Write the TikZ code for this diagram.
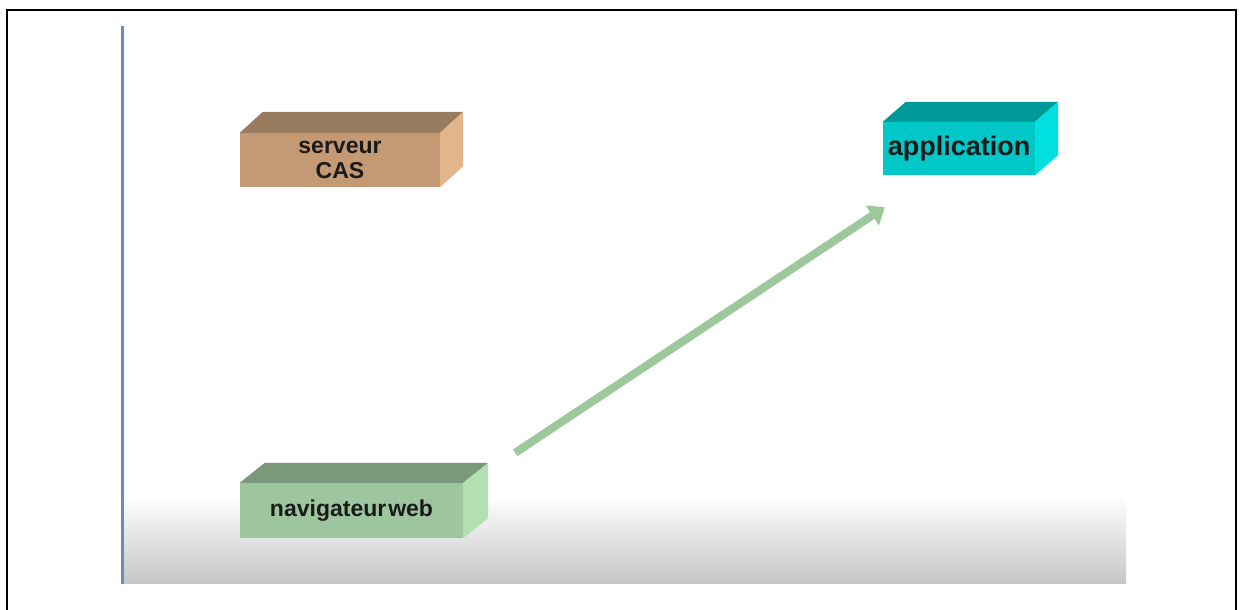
\documentclass[tikz,border=0pt]{standalone}
\usepackage{fontspec}
\setmainfont{Liberation Sans}
\usetikzlibrary{calc,arrows.meta}

\definecolor{casfront}{RGB}{195,154,115}
\definecolor{castop}{RGB}{153,124,95}
\definecolor{casside}{RGB}{226,182,138}
\definecolor{appfront}{RGB}{0,200,200}
\definecolor{apptop}{RGB}{0,153,153}
\definecolor{appside}{RGB}{0,224,224}
\definecolor{navfront}{RGB}{158,198,158}
\definecolor{navtop}{RGB}{122,152,122}
\definecolor{navside}{RGB}{178,224,178}
\definecolor{flowgreen}{RGB}{156,200,156}
\definecolor{rulerblue}{RGB}{106,140,191}
\definecolor{floorgray}{RGB}{198,198,198}
\definecolor{labeltext}{RGB}{26,26,26}

\tikzset{
  front/.style={inner sep=0pt, align=center, text=labeltext,
    font=\bfseries\fontsize{23}{25}\selectfont},
  flow/.style={line width=8pt, flowgreen,
    -{Triangle[length=15pt,width=23pt,fill=flowgreen,color=flowgreen]}}
}

% top and side faces of a block: node name, depth dx, dy, top colour, side colour
\newcommand{\blockfaces}[5]{%
  \fill[#4] (#1.north west) -- ++(#2,#3) -- ($(#1.north east)+(#2,#3)$)
    -- (#1.north east) -- cycle;
  \fill[#5] (#1.north east) -- ++(#2,#3) -- ($(#1.south east)+(#2,#3)$)
    -- (#1.south east) -- cycle;
}

\begin{document}
\begin{tikzpicture}[x=1pt,y=1pt]
  \useasboundingbox (0,0) rectangle (1243,610);
  \fill[white] (0,0) rectangle (1243,610);

  % floor shading under the blocks
  \shade[top color=white, bottom color=floorgray] (124,26) rectangle (1126,115);

  % outer frame, open at the bottom
  \draw[line width=2.5pt] (7,0) -- (7,600) -- (1236,600) -- (1236,0);

  % vertical rule on the left
  \draw[rulerblue, line width=3.5pt] (122.5,26) -- (122.5,584);

  % blocks
  \node[front, fill=casfront, minimum width=200pt, minimum height=54pt]
    (cas) at (340,450) {\raisebox{-2pt}{serveur}\\[0pt]\raisebox{-2pt}{CAS}};
  \blockfaces{cas}{23}{21}{castop}{casside}

  \node[front, fill=appfront, minimum width=152pt, minimum height=53pt,
      font=\bfseries\fontsize{27}{29}\selectfont]
    (app) at (959,461.5) {\raisebox{-4pt}{application}};
  \blockfaces{app}{23}{20}{apptop}{appside}

  \node[front, fill=navfront, minimum width=223pt, minimum height=55pt]
    (nav) at (351.5,99.5) {\raisebox{-4pt}{navigateur\hspace{2pt}web}};
  \blockfaces{nav}{25}{20}{navtop}{navside}

  % request flow from the browser to the application
  \draw[flow] ($(nav.north east)+(52,30)$) -- ($(app.south west)+(2,-32)$);
\end{tikzpicture}
\end{document}
